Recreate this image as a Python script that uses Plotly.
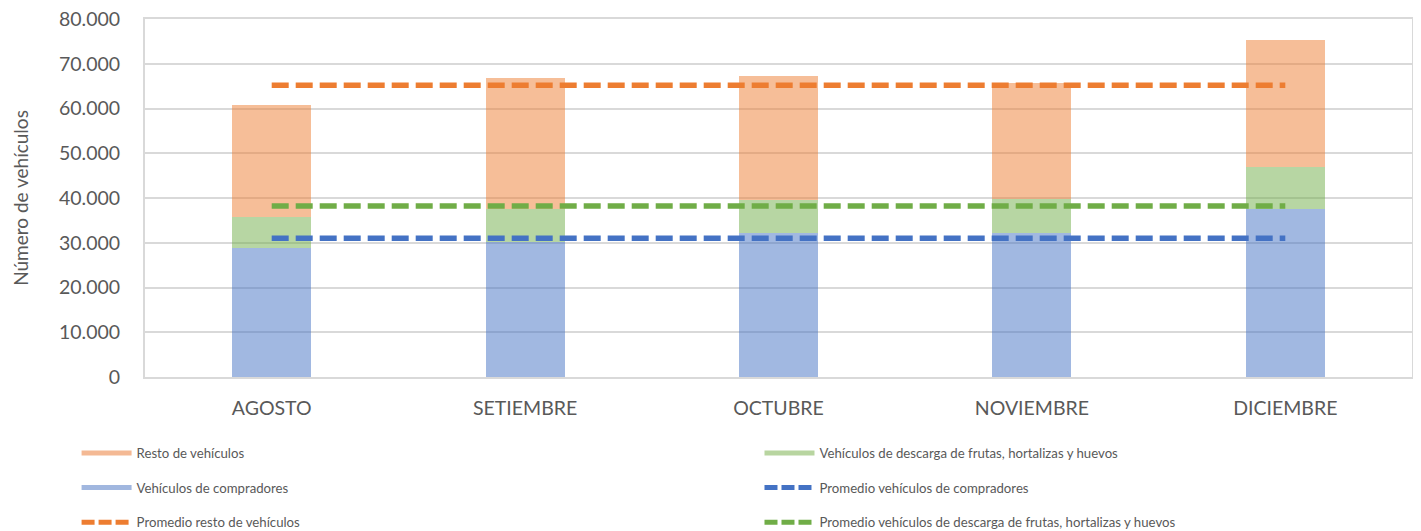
import plotly.graph_objects as go

months = ["AGOSTO", "SETIEMBRE", "OCTUBRE", "NOVIEMBRE", "DICIEMBRE"]
compradores = [28900, 30200, 32250, 32100, 37600]
descarga = [6800, 7400, 7300, 7700, 9300]
resto = [25100, 29200, 27750, 25900, 28300]
prom_compradores = [31000, 31000, 31000, 31000, 31000]
prom_descarga = [38200, 38200, 38200, 38200, 38200]
prom_resto = [65200, 65200, 65200, 65200, 65200]
y_ticks = [0, 10000, 20000, 30000, 40000, 50000, 60000, 70000, 80000]

name_resto = "Resto de vehículos"
name_desc = "Vehículos de descarga de frutas, hortalizas y huevos"
name_comp = "Vehículos de compradores"
name_pcomp = "Promedio vehículos de compradores"
name_presto = "Promedio resto de vehículos"
name_pdesc = "Promedio vehículos de descarga de frutas, hortalizas y huevos"

ORANGE = "#ED7D31"
GREEN = "#70AD47"
BLUE = "#4472C4"
TXT = "#595959"
GRID = "#D9D9D9"

fig = go.Figure()
fig.add_trace(go.Bar(x=months, y=compradores, name=name_comp, marker=dict(color="rgba(68,114,196,0.5)", line=dict(width=0)), showlegend=False))
fig.add_trace(go.Bar(x=months, y=descarga, name=name_desc, marker=dict(color="rgba(112,173,71,0.5)", line=dict(width=0)), showlegend=False))
fig.add_trace(go.Bar(x=months, y=resto, name=name_resto, marker=dict(color="rgba(237,125,49,0.5)", line=dict(width=0)), showlegend=False))

dash = "17px,7px"
fig.add_trace(go.Scatter(x=months, y=prom_resto, mode="lines", line=dict(color=ORANGE, width=5.5, dash=dash), showlegend=False))
fig.add_trace(go.Scatter(x=months, y=prom_descarga, mode="lines", line=dict(color=GREEN, width=5.5, dash=dash), showlegend=False))
fig.add_trace(go.Scatter(x=months, y=prom_compradores, mode="lines", line=dict(color=BLUE, width=5.5, dash=dash), showlegend=False))

# legend entries
def leg(name, color, dsh, legend, grp):
    fig.add_trace(go.Scatter(x=[None], y=[None], mode="lines", name=name,
                             line=dict(color=color, width=5, dash=dsh),
                             legend=legend, legendgroup=grp, showlegend=True))

leg(name_resto, "#F4B994", "solid", "legend", "a1")
leg(name_comp, "#A1B7DF", "solid", "legend", "a2")
leg(name_presto, ORANGE, "13px,4px", "legend", "a3")
leg(name_desc, "#B8D5A0", "solid", "legend2", "b1")
leg(name_pcomp, BLUE, "13px,4px", "legend2", "b2")
leg(name_pdesc, GREEN, "13px,4px", "legend2", "b3")

legend_common = dict(font=dict(family="Lato", size=13.2, color=TXT), itemwidth=50,
                     traceorder="grouped", tracegroupgap=14.5, bgcolor="rgba(0,0,0,0)",
                     yanchor="top", xanchor="left", orientation="v")

# page body has an 8px default margin, so the figure is sized/offset to compensate
fig.update_layout(
    width=1413, height=523,
    margin=dict(l=137, r=9, t=11, b=154, autoexpand=False),
    barmode="stack", bargap=0.688,
    separators=",.",
    plot_bgcolor="white", paper_bgcolor="white",
    font=dict(family="Lato", color=TXT),
    legend=dict(x=-0.054, y=-0.170, **legend_common),
    legend2=dict(x=0.485, y=-0.170, **legend_common),
    xaxis=dict(tickfont=dict(size=19.5, color=TXT), showline=True, linecolor=GRID, linewidth=2,
               mirror=True, ticks="", ticklabelstandoff=13, automargin=False),
    yaxis=dict(range=[0, 80000], tickvals=y_ticks, tickformat=",.0f",
               tickfont=dict(size=19.5, color=TXT), gridcolor=GRID, gridwidth=1.5,
               showline=True, linecolor=GRID, linewidth=2, mirror=True, zeroline=False,
               ticklabelstandoff=19, automargin=False, ticklabeloverflow="allow",
               title=dict(text="Número de vehículos", font=dict(size=19, color=TXT), standoff=25)),
)

fig.write_html("out.html")
